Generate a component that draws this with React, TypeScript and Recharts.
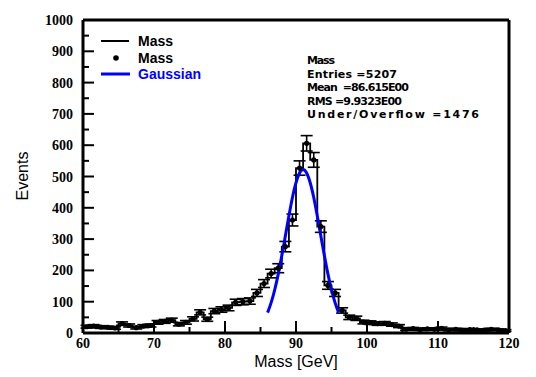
import { ComposedChart, Line, Scatter, ErrorBar, XAxis, YAxis } from 'recharts';

// histogram: 1 GeV bins from 60 to 120
const BIN_START = 60;
const COUNTS = [
  20, 22, 19, 18, 16, 30, 24, 17, 22, 24,
  34, 37, 41, 28, 34, 45, 66, 44, 70, 75,
  80, 98, 100, 102, 128, 158, 190, 207, 276, 361,
  527, 606, 553, 340, 152, 128, 72, 50, 47, 35,
  33, 30, 31, 27, 22, 12, 14, 11, 13, 12,
  15, 10, 12, 9, 11, 10, 9, 12, 10, 8,
];

// gaussian fit curve
const GAUSS_X = [86, 86.5, 87, 87.5, 88, 88.5, 89, 89.5, 90, 90.5, 91, 91.5, 92, 92.5, 93, 93.5, 94, 94.5, 95, 95.5, 96];
const GAUSS_Y = [65, 97, 138, 188, 247, 310, 374, 433, 480, 511, 522, 511, 480, 433, 374, 310, 247, 188, 138, 97, 65];

const X_TICKS = [60, 65, 70, 75, 80, 85, 90, 95, 100, 105, 110, 115, 120];
const Y_TICKS = [0, 50, 100, 150, 200, 250, 300, 350, 400, 450, 500, 550, 600, 650, 700, 750, 800, 850, 900, 950, 1000];

const STATS = ['Mass', 'Entries =5207', 'Mean  =86.615E00', 'RMS =9.9323E00', 'Under/Overflow =1476'];
const STATS_WIDTH = [28, 90, 102, 95, 172];

const W = 536;
const H = 377;
const PLOT = { left: 83, right: 509, top: 20, bottom: 333 };
const BOTTOM_AXIS_H = 30;
const LEFT_AXIS_W = 50;

const stepData = [
  ...COUNTS.map((n, i) => ({ x: BIN_START + i, y: n })),
  { x: BIN_START + COUNTS.length, y: COUNTS[COUNTS.length - 1] },
];
const pointData = COUNTS.map((n, i) => ({ x: BIN_START + i + 0.5, y: n, err: Math.sqrt(n) }));
const gaussData = GAUSS_X.map((x, i) => ({ x, y: GAUSS_Y[i] }));

const tickFont = { fontFamily: 'Liberation Serif', fontWeight: 'bold' as const, fontSize: 14, fill: '#000' };

function makeXTick(side: 'bottom' | 'top') {
  return (props: any) => {
    const { x, y, payload } = props;
    const v = payload.value;
    const major = v % 10 === 0;
    const len = major ? 12 : 6;
    const dir = side === 'bottom' ? -1 : 1;
    return (
      <g>
        <line x1={x} y1={y} x2={x} y2={y + dir * len} stroke="#000" strokeWidth={2} />
        {side === 'bottom' && major && (
          <text x={x} y={y + 15} textAnchor="middle" {...tickFont}>{v}</text>
        )}
      </g>
    );
  };
}

function makeYTick(side: 'left' | 'right') {
  return (props: any) => {
    const { x, y, payload } = props;
    const v = payload.value;
    const major = v % 100 === 0;
    const len = major ? 11 : 6;
    const dir = side === 'left' ? 1 : -1;
    return (
      <g>
        <line x1={x} y1={y} x2={x + dir * len} y2={y} stroke="#000" strokeWidth={2} />
        {side === 'left' && major && (
          <text x={x - 10} y={y + 5} textAnchor="end" {...tickFont}>{v}</text>
        )}
      </g>
    );
  };
}

const Dot = (props: any) => <circle cx={props.cx} cy={props.cy} r={2.6} fill="#000" />;

const axisLine = { stroke: '#000', strokeWidth: 3 };

export default function App() {
  return (
    <div style={{ position: 'absolute', left: 0, top: 0, width: W, height: H, background: '#fff' }}>
      <ComposedChart
        width={W}
        height={H}
        margin={{
          top: PLOT.top - 1,
          right: W - PLOT.right - 1,
          bottom: H - PLOT.bottom - BOTTOM_AXIS_H,
          left: PLOT.left - LEFT_AXIS_W,
        }}
      >
        <XAxis
          dataKey="x"
          type="number"
          domain={[60, 120]}
          ticks={X_TICKS}
          interval={0}
          allowDataOverflow
          height={BOTTOM_AXIS_H}
          tickSize={0}
          tickMargin={0}
          tickLine={false}
          axisLine={axisLine}
          tick={makeXTick('bottom')}
        />
        <XAxis
          xAxisId="top"
          orientation="top"
          dataKey="x"
          type="number"
          domain={[60, 120]}
          ticks={X_TICKS}
          interval={0}
          height={1}
          tickSize={0}
          tickMargin={0}
          tickLine={false}
          axisLine={axisLine}
          tick={makeXTick('top')}
        />
        <YAxis
          type="number"
          domain={[0, 1000]}
          ticks={Y_TICKS}
          interval={0}
          allowDataOverflow
          width={LEFT_AXIS_W}
          tickSize={0}
          tickMargin={0}
          tickLine={false}
          axisLine={axisLine}
          tick={makeYTick('left')}
        />
        <YAxis
          yAxisId="right"
          orientation="right"
          type="number"
          domain={[0, 1000]}
          ticks={Y_TICKS}
          interval={0}
          width={1}
          tickSize={0}
          tickMargin={0}
          tickLine={false}
          axisLine={axisLine}
          tick={makeYTick('right')}
        />
        <Line
          data={stepData}
          dataKey="y"
          type="stepAfter"
          stroke="#000"
          strokeWidth={1.8}
          dot={false}
          activeDot={false}
          isAnimationActive={false}
        />
        <Scatter data={pointData} dataKey="y" shape={Dot} isAnimationActive={false}>
          <ErrorBar dataKey="err" direction="y" width={6} stroke="#000" strokeWidth={1.6} />
        </Scatter>
        <Line
          data={gaussData}
          dataKey="y"
          type="monotone"
          stroke="#0000ff"
          strokeWidth={3}
          dot={false}
          activeDot={false}
          isAnimationActive={false}
        />
      </ComposedChart>
      <svg width={W} height={H} style={{ position: 'absolute', left: 0, top: 0, pointerEvents: 'none' }}>
        {/* legend */}
        <line x1={101} y1={41} x2={129} y2={41} stroke="#000" strokeWidth={2} />
        <text x={138} y={46} fontFamily="Liberation Sans" fontWeight="bold" fontSize={14} fill="#000">Mass</text>
        <circle cx={116} cy={58} r={2.8} fill="#000" />
        <text x={138} y={63} fontFamily="Liberation Sans" fontWeight="bold" fontSize={14} fill="#000">Mass</text>
        <line x1={101} y1={74} x2={130} y2={74} stroke="#0000ff" strokeWidth={3} />
        <text x={138} y={79} fontFamily="Liberation Sans" fontWeight="bold" fontSize={14} fill="#0000ff">Gaussian</text>
        {/* stats box */}
        {STATS.map((s, i) => (
          <text
            key={s}
            x={307}
            y={64 + i * 13.5}
            fontFamily="DejaVu Sans"
            fontWeight="bold"
            fontSize={11}
            fill="#000"
            textLength={STATS_WIDTH[i]}
            lengthAdjust="spacing"
            style={{ whiteSpace: 'pre' }}
          >
            {s}
          </text>
        ))}
        {/* axis titles */}
        <text x={296} y={367} textAnchor="middle" fontFamily="Liberation Sans" fontSize={16} fill="#000">Mass [GeV]</text>
        <text
          x={0}
          y={0}
          transform="translate(28 176) rotate(-90)"
          textAnchor="middle"
          fontFamily="Liberation Sans"
          fontSize={16}
          fill="#000"
        >
          Events
        </text>
      </svg>
    </div>
  );
}
